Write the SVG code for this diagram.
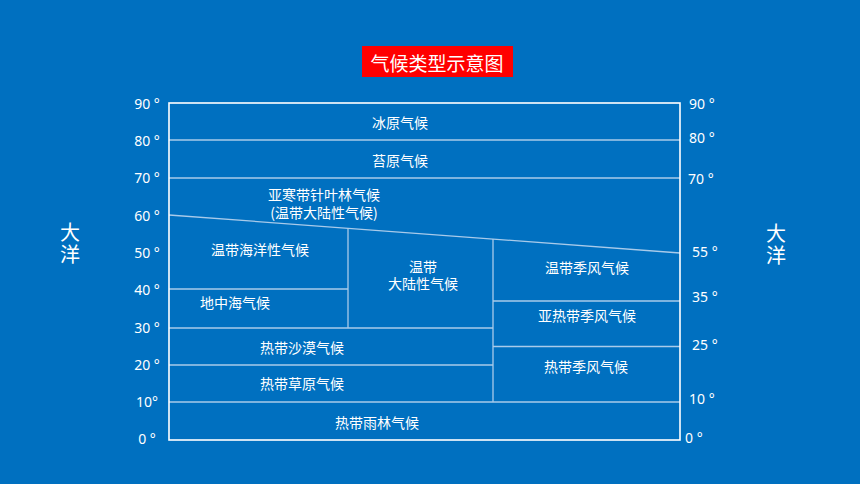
<svg xmlns="http://www.w3.org/2000/svg" width="860" height="484" viewBox="0 0 860 484">
<style>
.cell{font-family:"Noto Sans CJK SC","Noto Sans",sans-serif;font-size:14px;fill:#ffffff;text-anchor:middle;dominant-baseline:central}
.ax{font-family:"Noto Sans","Open Sans",sans-serif;font-size:14px;fill:#ffffff;dominant-baseline:central}
.axl{text-anchor:middle}
.ocean{font-family:"Noto Sans CJK SC",sans-serif;font-size:20px;fill:#ffffff;writing-mode:vertical-rl;letter-spacing:2px}
.in{stroke:#A9CBEA;stroke-width:1.3;fill:none}
</style>
<rect x="0" y="0" width="860" height="484" fill="#0070C0"/>
<g id="title">
<rect x="362" y="46" width="151" height="31" fill="#FF0000"/>
<text x="437" y="62" class="cell" style="font-size:19px">气候类型示意图</text>
</g>
<g id="grid">
<line class="in" x1="169" y1="140" x2="680" y2="140"/>
<line class="in" x1="169" y1="178" x2="680" y2="178"/>
<line class="in" x1="169" y1="215" x2="680" y2="253"/>
<line class="in" x1="348" y1="228.3" x2="348" y2="328"/>
<line class="in" x1="169" y1="289" x2="348" y2="289"/>
<line class="in" x1="169" y1="328" x2="493" y2="328"/>
<line class="in" x1="493" y1="239.1" x2="493" y2="402"/>
<line class="in" x1="169" y1="365" x2="493" y2="365"/>
<line class="in" x1="169" y1="402" x2="680" y2="402"/>
<line class="in" x1="493" y1="301" x2="680" y2="301"/>
<line class="in" x1="493" y1="346.5" x2="680" y2="346.5"/>
<rect x="169" y="103" width="511" height="337" fill="none" stroke="#ffffff" stroke-width="1.6"/>
</g>
<g id="ice"><text class="cell" x="400" y="122">冰原气候</text></g>
<g id="tundra"><text class="cell" x="400" y="160">苔原气候</text></g>
<g id="subarctic"><text class="cell" x="324" y="194">亚寒带针叶林气候</text><text class="cell" x="324" y="212">(温带大陆性气候)</text></g>
<g id="marine"><text class="cell" x="260" y="249">温带海洋性气候</text></g>
<g id="mediterranean"><text class="cell" x="235" y="301.5">地中海气候</text></g>
<g id="continental"><text class="cell" x="423" y="266"><tspan x="423" y="266">温带</tspan><tspan x="423" y="283">大陆性气候</tspan></text></g>
<g id="desert"><text class="cell" x="302" y="347">热带沙漠气候</text></g>
<g id="savanna"><text class="cell" x="302" y="383">热带草原气候</text></g>
<g id="rainforest"><text class="cell" x="377" y="422">热带雨林气候</text></g>
<g id="temperate-monsoon"><text class="cell" x="587" y="267">温带季风气候</text></g>
<g id="subtropical-monsoon"><text class="cell" x="587" y="315">亚热带季风气候</text></g>
<g id="tropical-monsoon"><text class="cell" x="586" y="366">热带季风气候</text></g>
<g id="left-axis">
<text class="ax axl" x="147" y="103">90 °</text>
<text class="ax axl" x="147" y="140">80 °</text>
<text class="ax axl" x="147" y="177">70 °</text>
<text class="ax axl" x="147" y="215">60 °</text>
<text class="ax axl" x="147" y="252">50 °</text>
<text class="ax axl" x="147" y="289">40 °</text>
<text class="ax axl" x="147" y="327">30 °</text>
<text class="ax axl" x="147" y="364">20 °</text>
<text class="ax axl" x="147" y="401">10°</text>
<text class="ax axl" x="147" y="438">0 °</text>
</g>
<g id="right-axis">
<text class="ax" x="689" y="103">90 °</text>
<text class="ax" x="689" y="137">80 °</text>
<text class="ax" x="688" y="178">70 °</text>
<text class="ax" x="692" y="251">55 °</text>
<text class="ax" x="692" y="296">35 °</text>
<text class="ax" x="692" y="344">25 °</text>
<text class="ax" x="689" y="398">10 °</text>
<text class="ax" x="685" y="437">0 °</text>
</g>
<g id="ocean-left"><text class="ocean" x="70" y="222">大洋</text></g>
<g id="ocean-right"><text class="ocean" x="776" y="223">大洋</text></g>
</svg>
